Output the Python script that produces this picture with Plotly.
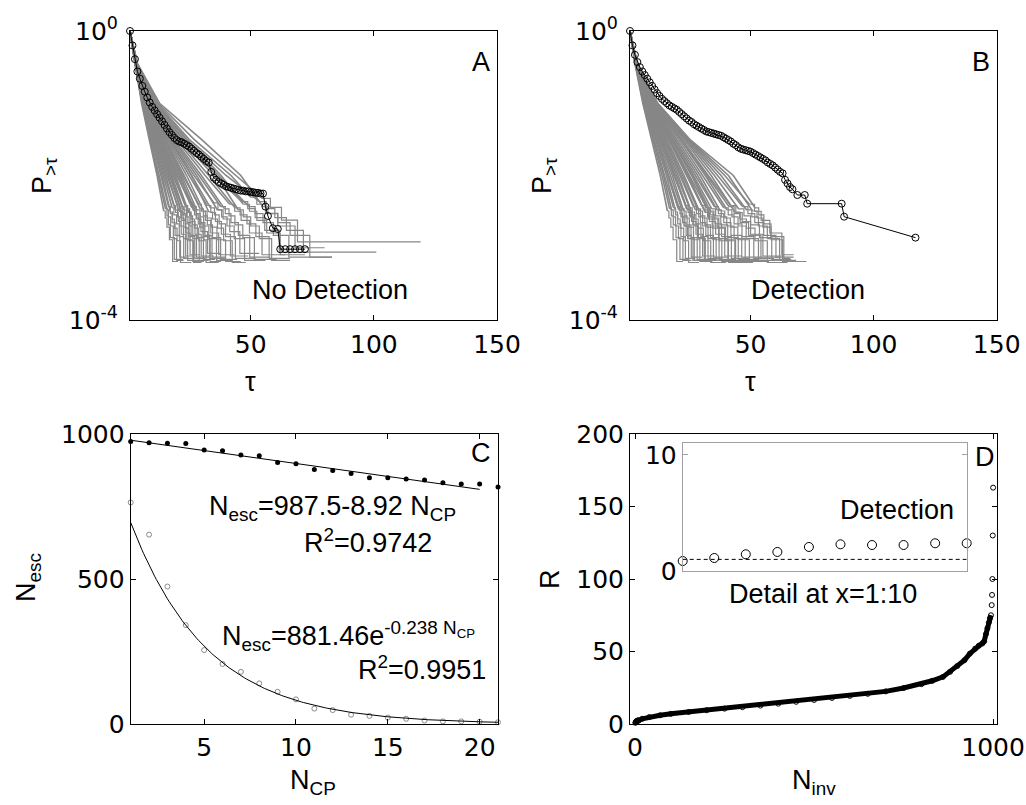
import math
import plotly.graph_objects as go

W, H = 1026, 805
FONT = "Liberation Sans, Arial, Helvetica, sans-serif"
TICKFONT = "DejaVu Sans, Verdana, sans-serif"
GREY = "#878787"

# ---------------- Panel A / B : black survival curves (log10 P) ----------------
A_black_tau = list(range(1, 56)) + [56, 57, 59, 61, 62, 64, 66, 68, 70, 72]
A_black_log10p = [0.00, -0.20, -0.39, -0.56, -0.66, -0.76, -0.84, -0.92, -0.99, -1.05,
                  -1.10, -1.15, -1.20, -1.25, -1.30, -1.35, -1.40, -1.44, -1.48, -1.51,
                  -1.53, -1.54, -1.56, -1.58, -1.60, -1.63, -1.66, -1.69, -1.71, -1.74,
                  -1.77, -1.80, -1.82, -1.95, -2.03, -2.06, -2.09, -2.11, -2.13, -2.15,
                  -2.16, -2.17, -2.18, -2.19, -2.20, -2.21, -2.21, -2.22, -2.22, -2.23,
                  -2.23, -2.24, -2.24, -2.25, -2.25, -2.43, -2.56, -2.73, -2.74, -3.02,
                  -3.02, -3.02, -3.02, -3.02, -3.02]

B_black_tau = list(range(1, 68)) + [69, 72, 73, 87, 88, 117]
B_black_log10p = [0.00, -0.20, -0.33, -0.43, -0.50, -0.56, -0.61, -0.66, -0.71, -0.76,
                  -0.81, -0.86, -0.90, -0.94, -0.97, -1.00, -1.03, -1.05, -1.07, -1.09,
                  -1.12, -1.15, -1.18, -1.21, -1.24, -1.26, -1.29, -1.31, -1.33, -1.35,
                  -1.37, -1.39, -1.40, -1.41, -1.42, -1.43, -1.44, -1.45, -1.47, -1.49,
                  -1.51, -1.53, -1.56, -1.58, -1.61, -1.63, -1.64, -1.65, -1.66, -1.67,
                  -1.69, -1.71, -1.73, -1.75, -1.77, -1.79, -1.82, -1.84, -1.86, -1.89,
                  -1.92, -1.95, -1.97, -2.06, -2.11, -2.16, -2.19, -2.27, -2.27, -2.39,
                  -2.39, -2.57, -2.86]

# ---------------- Panel A / B : grey simulated curves ----------------
# per curve: number of events, tau where P = 10^-0.45, 10^-1, 10^-1.5, 10^-2,
# then tau where the count of remaining events drops to 5,4,3,2,1 and the last tau
A_nev = [1550, 1450, 1500, 1350, 1600, 1400, 1300, 1500, 1250, 1550, 1400, 1350, 1500, 1300,
         1450, 1600, 1200, 1400, 1350, 1500, 1250, 1450, 1550, 1300, 1400, 1200, 1500, 1350,
         1450, 1250, 1400, 1150, 1350, 1150, 830, 1350, 1000, 1250, 1500, 1600, 1550, 1600]
A_t045 = [3.0, 3.0, 3.1, 3.0, 3.1, 3.1, 3.2, 3.1, 3.2, 3.2, 3.3, 3.2, 3.3, 3.3, 3.3, 3.4, 3.3,
          3.4, 3.4, 3.4, 3.5, 3.4, 3.5, 3.5, 3.5, 3.6, 3.5, 3.6, 3.6, 3.6, 3.7, 3.7, 3.8, 3.9,
          4.0, 4.0, 3.8, 3.8, 3.7, 3.6, 3.4, 3.3]
A_t10 = [5.7, 5.9, 6.0, 6.2, 6.3, 6.5, 6.6, 6.8, 6.9, 7.0, 7.1, 7.2, 7.3, 7.4, 7.5, 7.6, 7.7,
         7.8, 7.9, 8.1, 8.2, 8.3, 8.4, 8.5, 8.6, 8.8, 8.9, 9.0, 9.1, 9.3, 9.5, 9.8, 10.0, 11.0,
         12.5, 13.0, 12.0, 11.5, 10.5, 9.0, 8.2, 7.5]
A_t15 = [8.8, 9.1, 9.4, 9.7, 10.0, 10.3, 10.6, 10.9, 11.2, 11.5, 11.8, 12.1, 12.4, 12.7, 13.0,
         13.3, 13.6, 13.9, 14.2, 14.8, 15.1, 15.4, 15.9, 16.4, 16.9, 17.5, 18.0, 18.5, 19.0,
         19.7, 20.5, 21.5, 22.5, 24.0, 27.0, 30.0, 25.0, 24.0, 23.0, 17.5, 14.8, 12.3]
A_t20 = [12.0, 12.5, 13.0, 13.5, 14.0, 14.5, 15.0, 15.5, 16.0, 16.5, 17.0, 17.5, 18.0, 18.5,
         19.0, 19.5, 20.0, 20.5, 21.0, 22.0, 22.5, 23.0, 24.0, 25.0, 26.0, 27.0, 28.0, 29.0,
         30.0, 31.5, 33.0, 35.0, 37.0, 40.0, 44.0, 46.0, 42.0, 38.0, 36.0, 26.0, 21.5, 17.5]
A_c5 = [14.7, 15.4, 16.1, 16.7, 17.4, 18.1, 18.8, 19.4, 20.1, 20.8, 21.4, 22.1, 22.8, 23.4,
        24.1, 24.8, 25.4, 26.1, 26.8, 28.1, 28.8, 29.5, 30.9, 32.3, 33.7, 35.1, 36.5, 37.9,
        39.4, 41.5, 43.6, 46.5, 49.3, 53.6, 51.5, 55.0, 50.0, 47.0, 45.0, 33.0, 27.0, 21.8]
A_c4 = [15.3, 16.0, 16.6, 17.4, 18.2, 18.8, 19.5, 20.3, 21.0, 21.6, 22.2, 23.0, 23.9, 24.4,
        25.2, 25.8, 26.6, 27.2, 27.9, 29.4, 30.0, 30.8, 32.3, 33.8, 35.3, 36.7, 38.2, 39.7,
        41.2, 43.5, 45.7, 48.8, 51.8, 56.3, 54.5, 57.0, 52.5, 49.5, 47.0, 34.5, 28.0, 22.6]
A_c3 = [16.0, 16.6, 17.5, 18.1, 19.0, 19.9, 20.6, 21.2, 22.0, 22.8, 23.5, 24.2, 25.0, 25.7,
        26.4, 27.2, 27.9, 28.7, 29.5, 30.9, 31.6, 32.4, 34.0, 35.7, 37.2, 38.8, 40.4, 42.0,
        43.6, 46.1, 48.5, 51.8, 55.0, 59.8, 58.0, 61.0, 56.0, 52.5, 50.0, 36.5, 29.3, 23.6]
A_c2 = [17.0, 17.4, 18.6, 19.3, 20.1, 21.0, 21.8, 22.7, 23.5, 24.1, 24.9, 25.8, 26.5, 27.4,
        28.3, 28.9, 29.8, 30.6, 31.4, 33.0, 33.8, 34.5, 36.3, 38.1, 39.8, 41.5, 43.3, 45.0,
        46.8, 49.5, 52.1, 55.7, 59.2, 64.5, 62.5, 66.0, 61.0, 56.5, 53.5, 39.0, 31.0, 24.9]
A_c1 = [18.3, 19.0, 19.9, 21.2, 21.5, 22.8, 23.6, 24.4, 25.4, 26.5, 27.3, 28.0, 29.1, 29.9,
        30.8, 31.9, 32.5, 33.4, 34.3, 36.1, 37.0, 37.8, 39.8, 41.8, 43.8, 45.6, 47.5, 49.6,
        51.5, 54.6, 57.5, 61.6, 65.5, 71.4, 69.0, 74.0, 68.0, 62.0, 58.5, 42.5, 33.5, 26.8]
A_end = [20.5, 22.5, 22.8, 24.0, 25.9, 26.4, 27.0, 29.0, 29.2, 31.0, 31.5, 33.2, 33.0, 35.0,
         35.5, 37.0, 38.0, 39.5, 40.0, 42.5, 43.4, 44.5, 46.0, 49.0, 52.0, 53.5, 56.0, 58.0,
         60.5, 64.0, 66.0, 72.0, 83.0, 101.0, 119.0, 83.0, 80.0, 72.0, 66.0, 48.0, 38.0, 30.0]

B_nev = [1550, 1450, 1500, 1400, 1600, 1350, 1500, 1450, 1550, 1300, 1500, 1400, 1600, 1350,
         1500, 1450, 1550, 1300, 1500, 1400, 1600, 1450, 1350, 1500, 1550, 1400, 1500, 1300,
         1600, 1450, 1350, 1500, 1250, 1550, 1400, 1600, 1450, 1550, 1350, 1500]
B_t045 = [3.0, 3.1, 3.1, 3.1, 3.2, 3.2, 3.2, 3.3, 3.3, 3.3, 3.3, 3.4, 3.4, 3.4, 3.4, 3.5, 3.5,
          3.5, 3.5, 3.6, 3.6, 3.6, 3.6, 3.7, 3.7, 3.7, 3.8, 3.8, 3.8, 3.9, 3.9, 3.9, 4.0, 4.0,
          4.0, 3.5, 3.3, 3.6, 3.8, 3.2]
B_t10 = [6.2, 6.4, 6.6, 6.8, 7.0, 7.2, 7.4, 7.6, 7.8, 8.0, 8.1, 8.3, 8.4, 8.6, 8.7, 8.9, 9.0,
         9.2, 9.3, 9.5, 9.6, 9.8, 9.9, 10.1, 10.3, 10.5, 10.7, 10.9, 11.1, 11.3, 11.5, 11.7,
         11.9, 12.1, 12.3, 9.4, 8.0, 9.7, 10.8, 7.3]
B_t15 = [9.7, 10.1, 10.5, 10.9, 11.3, 11.7, 12.1, 12.5, 12.9, 13.3, 13.7, 14.1, 14.5, 14.9,
         15.3, 15.7, 16.1, 16.5, 16.9, 17.4, 17.9, 18.4, 18.9, 19.4, 20.0, 20.7, 21.4, 22.1,
         22.8, 23.5, 24.0, 24.4, 24.7, 25.0, 25.3, 17.0, 13.6, 18.0, 21.8, 11.9]
B_t20 = [13.3, 14.0, 14.6, 15.2, 15.8, 16.4, 17.0, 17.6, 18.2, 18.8, 19.4, 20.0, 20.6, 21.2,
         21.8, 22.4, 23.0, 23.7, 24.4, 25.2, 26.0, 26.8, 27.6, 28.5, 29.5, 30.5, 31.6, 32.8,
         34.0, 35.3, 36.6, 38.0, 39.5, 41.0, 43.0, 24.8, 19.2, 26.4, 32.2, 16.7]
B_c5 = [16.2, 17.1, 17.9, 18.7, 19.6, 20.4, 21.2, 22.0, 22.8, 23.6, 24.4, 25.2, 26.0, 26.8,
        27.6, 28.4, 29.2, 30.1, 31.1, 32.1, 33.2, 34.2, 35.3, 36.4, 37.7, 39.1, 40.5, 42.0,
        43.6, 45.2, 46.8, 48.4, 49.5, 50.8, 51.8, 31.5, 24.0, 33.6, 41.3, 20.8]
B_c4 = [16.8, 17.8, 18.6, 19.5, 20.3, 21.3, 22.1, 23.0, 23.8, 24.6, 25.5, 26.3, 27.2, 28.0,
        28.9, 29.7, 30.5, 31.5, 32.5, 33.6, 34.7, 35.8, 36.9, 38.1, 39.5, 40.9, 42.4, 44.0,
        45.6, 47.3, 48.9, 50.5, 51.6, 52.6, 53.3, 32.9, 25.1, 35.1, 43.3, 21.7]
B_c3 = [17.6, 18.6, 19.5, 20.4, 21.4, 22.3, 23.3, 24.2, 25.1, 26.0, 26.9, 27.8, 28.7, 29.6,
        30.5, 31.4, 32.3, 33.3, 34.4, 35.5, 36.7, 37.9, 39.1, 40.3, 41.8, 43.3, 44.9, 46.6,
        48.3, 50.0, 51.7, 53.2, 54.3, 55.0, 55.4, 34.7, 26.5, 37.1, 45.8, 22.9]
B_c2 = [18.5, 19.7, 20.7, 21.7, 22.8, 23.8, 24.9, 25.8, 26.8, 27.8, 28.8, 29.8, 30.8, 31.8,
        32.7, 33.7, 34.7, 35.8, 37.0, 38.2, 39.5, 40.7, 42.0, 43.3, 44.8, 46.5, 48.2, 50.0,
        51.8, 53.6, 55.3, 56.8, 57.8, 58.3, 58.3, 37.2, 28.4, 39.8, 49.2, 24.4]
B_c1 = [20.0, 21.3, 22.5, 23.5, 24.8, 25.9, 27.1, 28.3, 29.4, 30.5, 31.6, 32.7, 33.8, 34.9,
        36.0, 37.2, 38.3, 39.5, 40.8, 42.2, 43.6, 45.0, 46.4, 47.8, 49.5, 51.3, 53.2, 55.0,
        56.8, 58.6, 60.3, 61.8, 62.7, 63.0, 63.5, 41.0, 31.2, 43.9, 54.2, 26.6]
B_end = [22.5, 24.5, 26.0, 27.5, 29.0, 30.5, 31.5, 33.0, 34.5, 35.5, 37.0, 38.5, 40.0, 41.0,
         42.5, 44.0, 45.0, 46.5, 48.0, 49.5, 51.0, 53.0, 54.5, 56.0, 57.5, 59.5, 61.5, 63.5,
         65.0, 66.5, 67.5, 68.5, 67.5, 72.7, 66.0, 47.0, 36.0, 50.0, 62.0, 31.0]

# ---------------- Panel C ----------------
n_cp = list(range(1, 22))
n_esc_filled = [974, 970, 968, 967, 945, 942, 928, 925, 902, 897, 878, 874, 864, 849, 849,
                845, 841, 832, 828, 828, 817]
n_esc_open = [764, 653, 474, 341, 255, 207, 180, 140, 111, 85, 53, 48, 32, 28, 22, 18, 12,
              9, 9, 8, 6]
lin_fit = (987.5, -8.92)      # N_esc = a + b N_CP
exp_fit = (881.46, -0.238)    # N_esc = a exp(b N_CP)

# ---------------- Panel D ----------------
n_inv = [1, 2, 3, 4, 5, 6, 7, 8, 9, 10, 20, 40, 70, 100, 150, 200, 250, 300, 350, 400, 450,
         500, 550, 600, 650, 700, 750, 800, 830, 860, 880, 900, 920, 935, 950, 960, 970, 975,
         980, 984, 988, 991, 994, 996, 997, 998, 999, 1000]
r_val = [0.86, 1.12, 1.44, 1.64, 2.07, 2.30, 2.24, 2.24, 2.39, 2.39, 3.6, 4.8, 6.0, 7.0,
         8.3, 9.5, 10.6, 11.6, 12.7, 14.0, 15.3, 16.6, 18.0, 19.4, 20.8, 22.5, 24.8, 27.5,
         29.8, 32.5, 36.0, 40.0, 44.0, 48.5, 52.0, 54.0, 55.5, 57.0, 62.0, 66.0, 70.0, 73.0,
         75.0, 82.0, 89.0, 100.0, 130.0, 163.0]
inset_n = n_inv[:10]
inset_r = r_val[:10]
threshold_r = 1.0

fig = go.Figure()


def grey_traces(nev, t045, t10, t15, t20, c5, c4, c3, c2, c1, tend, xa, ya):
    sx, sy, tx, ty = [], [], [], []
    for i in range(len(nev)):
        n = nev[i]
        sx += [1, t045[i], t10[i], t15[i], t20[i], c5[i], None]
        sy += [1.0, 10 ** -0.45, 0.1, 10 ** -1.5, 0.01, 5.0 / n, None]
        tx += [c5[i], c4[i], c3[i], c2[i], c1[i], tend[i], None]
        ty += [5.0 / n, 4.0 / n, 3.0 / n, 2.0 / n, 1.0 / n, 1.0 / n, None]
    fig.add_trace(go.Scatter(x=sx, y=sy, mode="lines", line=dict(color=GREY, width=1.6),
                             xaxis=xa, yaxis=ya, hoverinfo="skip"))
    fig.add_trace(go.Scatter(x=tx, y=ty, mode="lines",
                             line=dict(color=GREY, width=1.2, shape="hv"),
                             xaxis=xa, yaxis=ya, hoverinfo="skip"))


grey_traces(A_nev, A_t045, A_t10, A_t15, A_t20, A_c5, A_c4, A_c3, A_c2, A_c1, A_end, "x", "y")
grey_traces(B_nev, B_t045, B_t10, B_t15, B_t20, B_c5, B_c4, B_c3, B_c2, B_c1, B_end, "x2", "y2")

for tau, lp, xa, ya in [(A_black_tau, A_black_log10p, "x", "y"),
                        (B_black_tau, B_black_log10p, "x2", "y2")]:
    fig.add_trace(go.Scatter(x=tau, y=[10 ** v for v in lp], mode="lines+markers",
                             line=dict(color="black", width=1),
                             marker=dict(symbol="circle-open", size=7, color="black",
                                         line=dict(width=1, color="black")),
                             xaxis=xa, yaxis=ya, cliponaxis=False))

# Panel C
fig.add_trace(go.Scatter(x=n_cp, y=n_esc_open, mode="markers",
                         marker=dict(symbol="circle-open", size=5, color="#8a8a8a",
                                     line=dict(width=1, color="#8a8a8a")),
                         xaxis="x3", yaxis="y3", cliponaxis=False))
fig.add_trace(go.Scatter(x=n_cp, y=n_esc_filled, mode="markers",
                         marker=dict(symbol="circle", size=5, color="black"),
                         xaxis="x3", yaxis="y3", cliponaxis=False))
lin_x = n_cp[:20]
fig.add_trace(go.Scatter(x=lin_x, y=[lin_fit[0] + lin_fit[1] * v for v in lin_x], mode="lines",
                         line=dict(color="black", width=1), xaxis="x3", yaxis="y3"))
exp_x = [1 + 0.1 * k for k in range(201)]
fig.add_trace(go.Scatter(x=exp_x, y=[exp_fit[0] * math.exp(exp_fit[1] * v) for v in exp_x],
                         mode="lines", line=dict(color="black", width=1),
                         xaxis="x3", yaxis="y3"))

# Panel D
fig.add_trace(go.Scatter(x=n_inv[:43], y=r_val[:43], mode="lines+markers",
                         line=dict(color="black", width=5),
                         marker=dict(symbol="circle-open", size=5, color="black",
                                     line=dict(width=1, color="black")),
                         xaxis="x4", yaxis="y4", cliponaxis=False))
fig.add_trace(go.Scatter(x=n_inv[43:], y=r_val[43:], mode="markers",
                         marker=dict(symbol="circle-open", size=5, color="black",
                                     line=dict(width=1, color="black")),
                         xaxis="x4", yaxis="y4", cliponaxis=False))
# inset
fig.add_trace(go.Scatter(x=[inset_n[0], inset_n[-1]], y=[threshold_r, threshold_r], mode="lines",
                         line=dict(color="black", width=1, dash="4px,3px"),
                         xaxis="x5", yaxis="y5"))
fig.add_trace(go.Scatter(x=inset_n, y=inset_r, mode="markers",
                         marker=dict(symbol="circle-open", size=9, color="black",
                                     line=dict(width=1, color="black")),
                         xaxis="x5", yaxis="y5", cliponaxis=False))


def dom_x(a, b):
    return [a / W, b / W]


def dom_y(top, bottom):
    return [1 - bottom / H, 1 - top / H]


TICKF = dict(family=TICKFONT, size=25, color="black")
base = dict(showline=True, linecolor="black", linewidth=1, mirror="ticks", ticks="inside",
            ticklen=5, tickcolor="black", showgrid=False, zeroline=False, tickfont=TICKF,
            automargin=False)

layout = dict(
    width=W, height=H, autosize=False,
    margin=dict(l=0, r=0, t=0, b=0, pad=0, autoexpand=False), showlegend=False,
    paper_bgcolor="white", plot_bgcolor="white", font=dict(family=FONT, color="black"),
    xaxis=dict(base, domain=dom_x(130, 497), range=[1, 150], tickvals=[50, 100, 150],
               anchor="y", ticklabelstandoff=2),
    yaxis=dict(base, domain=dom_y(31, 320), type="log", range=[-4, 0], tickvals=[1e-4, 1],
               ticktext=["10<sup>-4</sup>", "10<sup>0</sup>"], anchor="x", ticklabelstandoff=6),
    xaxis2=dict(base, domain=dom_x(630, 996.7), range=[1, 150], tickvals=[50, 100, 150],
                anchor="y2", ticklabelstandoff=2),
    yaxis2=dict(base, domain=dom_y(31, 320), type="log", range=[-4, 0], tickvals=[1e-4, 1],
                ticktext=["10<sup>-4</sup>", "10<sup>0</sup>"], anchor="x2", ticklabelstandoff=6),
    xaxis3=dict(base, domain=dom_x(130.7, 498), range=[1, 21], tickvals=[5, 10, 15, 20],
                anchor="y3", ticklabelstandoff=1),
    yaxis3=dict(base, domain=dom_y(434, 724), range=[0, 1000], tickvals=[0, 500, 1000],
                anchor="x3", ticklabelstandoff=0),
    xaxis4=dict(base, domain=dom_x(630, 996.7), range=[-14, 1010], tickvals=[0, 1000],
                anchor="y4", ticklabelstandoff=1),
    yaxis4=dict(base, domain=dom_y(434, 724), range=[0, 200], tickvals=[0, 50, 100, 150, 200],
                anchor="x4", ticklabelstandoff=0),
    xaxis5=dict(showline=True, linecolor="#a0a0a0", linewidth=1, mirror=True, ticks="",
                showticklabels=False, showgrid=False, zeroline=False, automargin=False,
                domain=dom_x(682.7, 966.7), range=[1, 10], anchor="y5"),
    yaxis5=dict(showline=True, linecolor="#a0a0a0", linewidth=1, mirror="ticks", ticks="inside",
                ticklen=5, tickcolor="#a0a0a0", showgrid=False, zeroline=False, tickfont=TICKF,
                automargin=False, domain=dom_y(443.3, 571), range=[0, 11], tickvals=[0, 10],
                anchor="x5", ticklabelstandoff=0),
)
fig.update_layout(**layout)


def ann(text, x, y, size=27, angle=0):
    fig.add_annotation(text=text, x=x / W, y=1 - y / H, xref="paper", yref="paper",
                       showarrow=False, xanchor="center", yanchor="middle", textangle=angle,
                       font=dict(family=FONT, size=size, color="black"))


ann("P<sub>&gt;τ</sub>", 44, 176, angle=-90)
ann("P<sub>&gt;τ</sub>", 544, 176, angle=-90)
ann("τ", 250, 382)
ann("τ", 750, 382)
ann("A", 481, 62)
ann("B", 981, 62)
ann("No Detection", 330, 290)
ann("Detection", 808, 290)

ann("N<sub>esc</sub>", 28, 578, angle=-90)
ann("N<sub>CP</sub>", 313, 782)
ann("C", 481, 453)
ann("N<sub>esc</sub>=987.5-8.92 N<sub>CP</sub>", 332, 508)
ann("R<sup>2</sup>=0.9742", 368, 541)
ann("N<sub>esc</sub>=881.46e<sup>-0.238 N<sub>CP</sub></sup>", 348, 636)
ann("R<sup>2</sup>=0.9951", 422, 668)

ann("R", 550, 579, angle=-90)
ann("N<sub>inv</sub>", 814, 782)
ann("D", 985, 457)
ann("Detection", 897, 510)
ann("Detail at x=1:10", 823, 594)

fig.write_html("out.html")
